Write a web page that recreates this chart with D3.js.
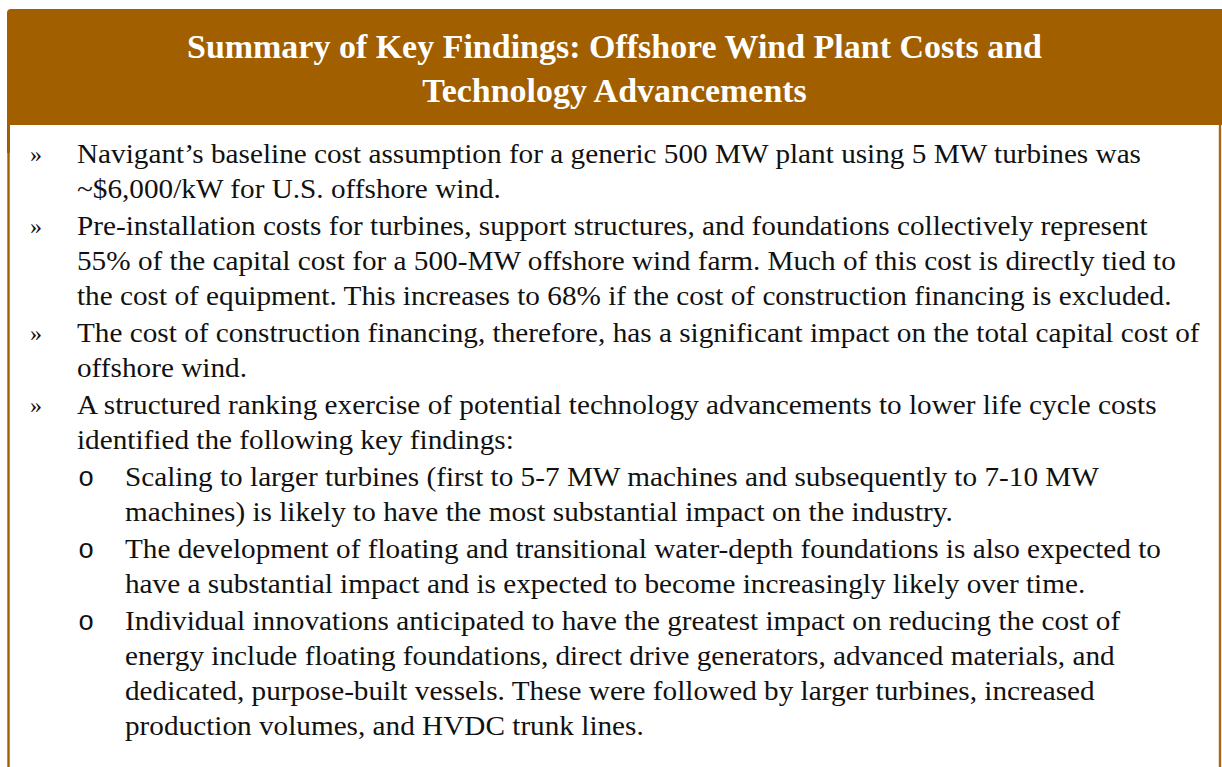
<!DOCTYPE html>
<html>
<head>
<meta charset="utf-8">
<script src="https://cdn.jsdelivr.net/npm/d3@7"></script>
<style>
  html, body { margin: 0; padding: 0; background: #ffffff; }
  svg { display: block; }
</style>
</head>
<body>
<svg id="chart" width="1222" height="767"></svg>
<script>
// ---- Content (data) ----
const titleLines = [
  "Summary of Key Findings: Offshore Wind Plant Costs and",
  "Technology Advancements"
];

const itemLevels = [1, 1, 1, 1, 2, 2, 2];

const itemLines = [
  ["Navigant\u2019s baseline cost assumption for a generic 500 MW plant using 5 MW turbines was",
   "~$6,000/kW for U.S. offshore wind."],
  ["Pre-installation costs for turbines, support structures, and foundations collectively represent",
   "55% of the capital cost for a 500-MW offshore wind farm. Much of this cost is directly tied to",
   "the cost of equipment. This increases to 68% if the cost of construction financing is excluded."],
  ["The cost of construction financing, therefore, has a significant impact on the total capital cost of",
   "offshore wind."],
  ["A structured ranking exercise of potential technology advancements to lower life cycle costs",
   "identified the following key findings:"],
  ["Scaling to larger turbines (first to 5-7 MW machines and subsequently to 7-10 MW",
   "machines) is likely to have the most substantial impact on the industry."],
  ["The development of floating and transitional water-depth foundations is also expected to",
   "have a substantial impact and is expected to become increasingly likely over time."],
  ["Individual innovations anticipated to have the greatest impact on reducing the cost of",
   "energy include floating foundations, direct drive generators, advanced materials, and",
   "dedicated, purpose-built vessels. These were followed by larger turbines, increased",
   "production volumes, and HVDC trunk lines."]
];

const bulletGlyphs = { 1: "\u00BB", 2: "o" };

// ---- Layout ----
const W = 1222, H = 767;
const brown = "#A15F00";
const svg = d3.select("#chart");

// Header band
const hx = 7, hy = 9, hw = W - 7, hh = 116;
svg.append("path")
  .attr("d", `M${hx},${hy + 4} Q${hx},${hy} ${hx + 4},${hy} L${hx + hw},${hy} L${hx + hw},${hy + hh} L${hx},${hy + hh} Z`)
  .attr("fill", brown);

// Left & right border lines of the box
svg.append("rect").attr("x", 7).attr("y", hy + hh).attr("width", 3).attr("height", 28).attr("fill", brown);
svg.append("rect").attr("x", 7.3).attr("y", hy + hh).attr("width", 2.4).attr("height", H - hy - hh).attr("fill", brown);
svg.append("rect").attr("x", 1218.8).attr("y", hy + hh).attr("width", 2.4).attr("height", H - hy - hh).attr("fill", "#A8680F");

// Title
const titleFont = "'Liberation Serif', 'DejaVu Serif', serif";
const titleY = d3.scaleLinear().domain([0, 1]).range([58, 102]);
const tTexts = svg.append("g").selectAll("text")
  .data(titleLines).join("text")
  .attr("x", 614.5)
  .attr("y", (d, i) => titleY(i))
  .attr("text-anchor", "middle")
  .attr("font-family", titleFont)
  .attr("font-weight", "bold")
  .attr("font-size", 33.5)
  .attr("fill", "#ffffff")
  .text(d => d);
const tW0 = tTexts.nodes()[0].getComputedTextLength();
const tFactor = 855 / tW0;
tTexts.each(function () {
  const w = this.getComputedTextLength();
  d3.select(this).attr("textLength", w * tFactor).attr("lengthAdjust", "spacingAndGlyphs");
});

// Body lines: flatten
const flat = [];
let lineIdx = 0;
itemLines.forEach((lines, p) => {
  lines.forEach((txt, j) => {
    flat.push({ text: txt, level: itemLevels[p], para: p, first: j === 0, idx: lineIdx++ });
  });
});

const lineStep = 35, paraGap = 2, firstBaseline = 163;
const yLine = d3.scaleLinear().domain([0, 1]).range([firstBaseline, firstBaseline + lineStep]);
const yOf = d => yLine(d.idx) + paraGap * d.para;
const xText = d3.scaleOrdinal().domain([1, 2]).range([77, 125]);
const xBullet = d3.scaleOrdinal().domain([1, 2]).range([30, 78]);

const bodyFont = "'Liberation Serif', 'DejaVu Serif', serif";
const bodyG = svg.append("g");
const bTexts = bodyG.selectAll("text.line")
  .data(flat).join("text")
  .attr("class", "line")
  .attr("x", d => xText(d.level))
  .attr("y", yOf)
  .attr("font-family", bodyFont)
  .attr("font-size", 26.5)
  .attr("fill", "#111111")
  .text(d => d.text);
const bW0 = bTexts.nodes()[0].getComputedTextLength();
const bFactor = 1064 / bW0;
bTexts.each(function () {
  const w = this.getComputedTextLength();
  d3.select(this).attr("textLength", w * bFactor).attr("lengthAdjust", "spacingAndGlyphs");
});

// Bullets
bodyG.selectAll("text.bullet")
  .data(flat.filter(d => d.first)).join("text")
  .attr("class", "bullet")
  .attr("x", d => xBullet(d.level))
  .attr("y", d => yOf(d) + (d.level === 1 ? -1 : 0))
  .attr("font-family", d => d.level === 1 ? bodyFont : "'Liberation Mono', 'DejaVu Sans Mono', monospace")
  .attr("font-size", d => d.level === 1 ? 24 : 27)
  .attr("fill", "#111111")
  .text(d => bulletGlyphs[d.level]);
</script>
</body>
</html>
